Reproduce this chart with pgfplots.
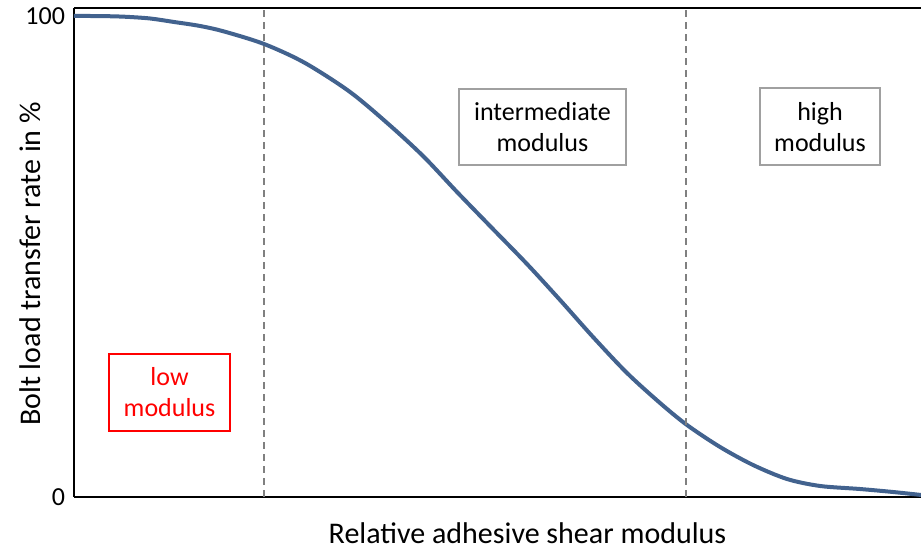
\documentclass[border=0pt]{standalone}
\usepackage{fontspec}
\setmainfont{Carlito}
\usepackage{pgfplots}
\pgfplotsset{compat=1.18}
\usetikzlibrary{calc}
\definecolor{curveblue}{RGB}{66,98,142}
\definecolor{boxgray}{RGB}{160,160,160}
\definecolor{dashgray}{RGB}{128,128,128}
\begin{document}
\begin{tikzpicture}
\begin{axis}[
  scale only axis,
  width=423.5pt, height=244.5pt,
  xmin=0, xmax=100, ymin=0, ymax=101.66,
  axis x line=box, axis y line=left,
  axis line style={-, line width=1pt, black},
  xtick=\empty, ytick={0,100},
  major tick length=0pt,
  yticklabel style={font=\fontsize{13}{15}\selectfont, xshift=-1pt},
  /pgf/number format/assume math mode=true,
  xlabel={Relative adhesive shear modulus},
  ylabel={Bolt load transfer rate in \%},
  xlabel style={font=\fontsize{15}{18}\selectfont, at={(axis description cs:0.5354,0)}, anchor=base, yshift=-23.3pt},
  ylabel style={font=\fontsize{15}{18}\selectfont, at={(axis description cs:0,0.4765)}, anchor=center, yshift=22pt},
  clip=false,
]
\addplot[smooth, curveblue, line width=2pt] coordinates {
(0,100) (3.07,99.98) (5.90,99.85) (8.97,99.48) (11.81,98.75) (14.88,97.92)
(17.71,96.78) (22.43,94.18) (27.2,90.3) (32.59,84.20)
(37.31,77.23) (41.32,70.69) (45.22,63.41) (49.23,56.13) (53.48,48.44)
(57.38,40.96) (61.28,33.26) (65.29,25.78) (69.19,19.54) (72.37,14.97)
(76.27,10.40) (80.17,6.65) (84.18,3.74) (88.08,2.29) (92.80,1.66)
(96.69,1.04) (100,0.42)
};
\addplot[dashgray, line width=1pt, dash pattern=on 3.5pt off 2.5pt] coordinates {(22.4,0) (22.4,101.66)};
\addplot[dashgray, line width=1pt, dash pattern=on 3.5pt off 2.5pt] coordinates {(72.3,0) (72.3,101.66)};
\node[draw=boxgray, line width=1pt, fill=white, minimum width=83.5pt, minimum height=38pt, align=center, inner sep=0pt, font=\fontsize{13}{15.5}\selectfont] at (axis cs:55.31,76.9) {intermediate\\modulus};
\node[draw=boxgray, line width=1pt, fill=white, minimum width=60pt, minimum height=38.5pt, align=center, inner sep=0pt, font=\fontsize{13}{15.5}\selectfont] at (axis cs:88.08,76.98) {high\\modulus};
\node[draw=red, text=red, line width=1pt, fill=white, minimum width=60.5pt, minimum height=38.5pt, align=center, inner sep=0pt, font=\fontsize{13}{15.5}\selectfont] at (axis cs:11.28,21.77) {low\\modulus};
\coordinate (ll) at (rel axis cs:0,0);
\coordinate (ur) at (rel axis cs:1,1);
\end{axis}
\pgfresetboundingbox
\path ($(ll)+(-37pt,-26pt)$) rectangle ($(ur)+(0pt,4pt)$);
\end{tikzpicture}
\end{document}
